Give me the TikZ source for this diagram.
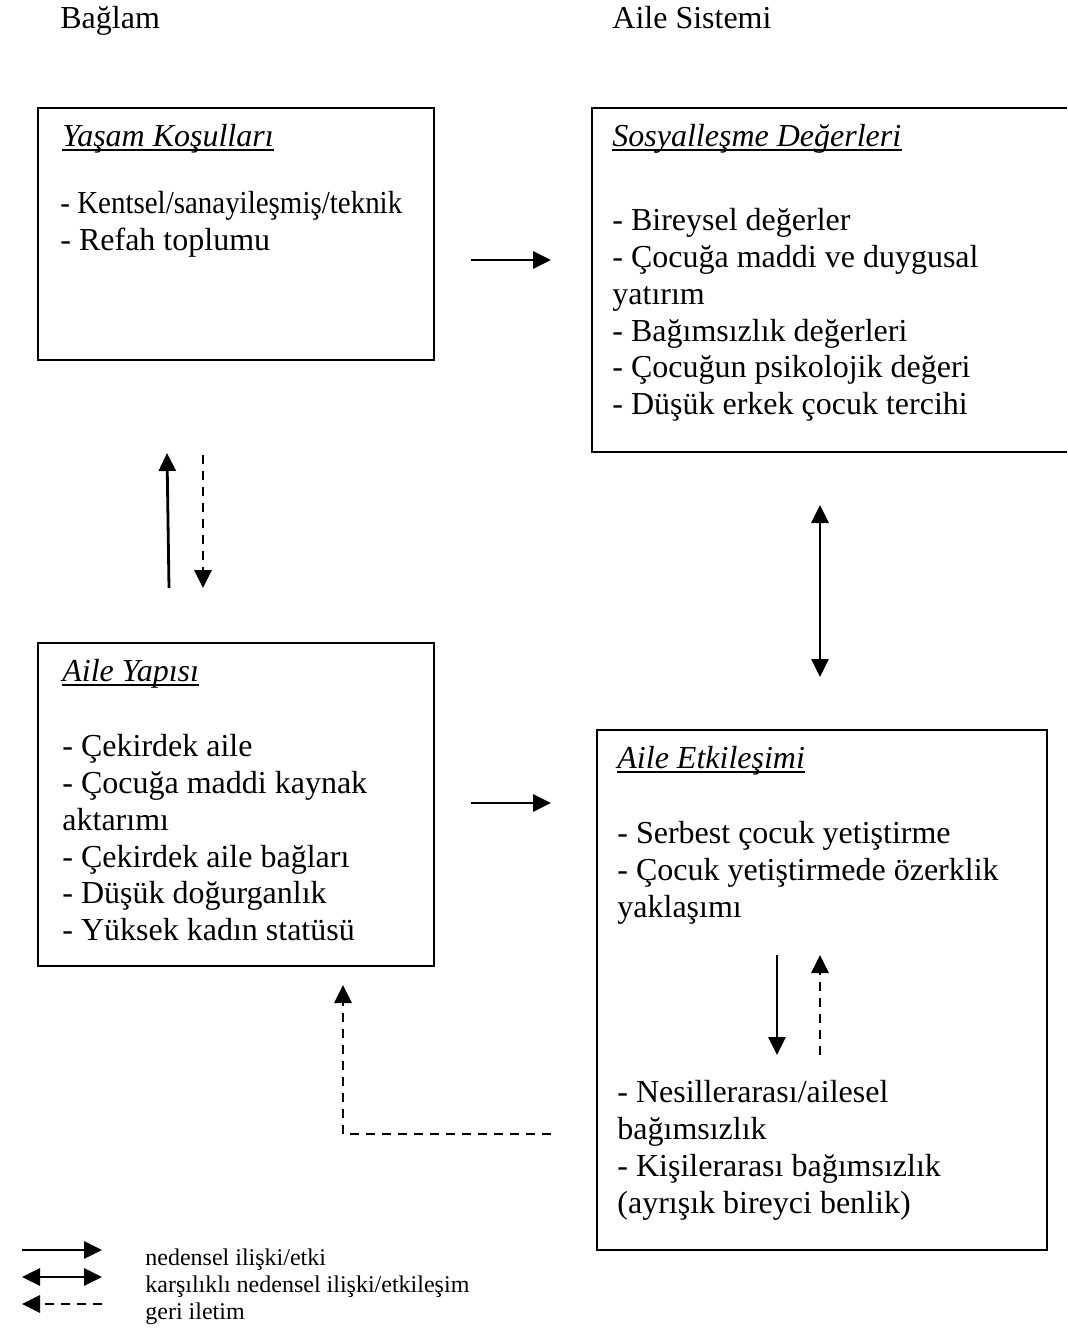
\documentclass[tikz,border=0pt]{standalone}
\usepackage{fontspec}
\setmainfont{Liberation Serif}
\usetikzlibrary{arrows.meta}

\tikzset{
  kutu/.style={draw=black, line width=1pt},
  metin/.style={anchor=north west, yshift=14pt, inner sep=0pt, align=left,
    execute at begin node={\rule{0pt}{14pt}}, font=\fontsize{16}{18.4}\selectfont},
  baslik/.style={metin, font=\fontsize{16}{18.4}\selectfont\itshape},
  cizgi/.style={line width=0.8pt},
  aciklama/.style={anchor=base west, inner sep=0pt, font=\fontsize{12}{13.4}\selectfont},
  ok/.style={line width=1.4pt, -{Triangle[length=9pt,width=8.5pt]}},
  ciftok/.style={line width=1.4pt, {Triangle[length=9pt,width=8.5pt]}-{Triangle[length=9pt,width=8.5pt]}},
  geri/.style={line width=1.4pt, dash pattern=on 4.5pt off 3.5pt, -{Triangle[length=9pt,width=8.5pt]}}
}

\begin{document}
\begin{tikzpicture}[x=0.5pt,y=-0.5pt]
\useasboundingbox (0,0) rectangle (1067,1329);

% basliklar
\node[metin] (baglam) at (60,28) {Bağlam};
\node[metin] (sistem) at (612,28) {Aile Sistemi};

% kutular
\draw[kutu] (38,108) rectangle (434,360);
\draw[kutu] (1067,108) -- (592,108) -- (592,452) -- (1067,452);
\draw[kutu] (38,643) rectangle (434,966);
\draw[kutu] (597,730) rectangle (1047,1250);

\node[baslik] (yasamB) at (62,146) {Yaşam Koşulları};
\draw[cizgi] ([yshift=-1.8pt]yasamB.base west) -- ([yshift=-1.8pt]yasamB.base east);
\node[metin] (yasam) at (60,219) {\scalebox{0.905}[1]{- Kentsel/sanayileşmiş/teknik}\\- Refah toplumu};

\node[baslik] (degerB) at (612,146) {Sosyalleşme Değerleri};
\draw[cizgi] ([yshift=-1.8pt]degerB.base west) -- ([yshift=-1.8pt]degerB.base east);
\node[metin] (deger) at (612,236) {- Bireysel değerler\\- Çocuğa maddi ve duygusal\\yatırım\\- Bağımsızlık değerleri\\- Çocuğun psikolojik değeri\\- Düşük erkek çocuk tercihi};

\node[baslik] (yapiB) at (62,681) {Aile Yapısı};
\draw[cizgi] ([yshift=-1.8pt]yapiB.base west) -- ([yshift=-1.8pt]yapiB.base east);
\node[metin] (yapi) at (62,762) {- Çekirdek aile\\- Çocuğa maddi kaynak\\aktarımı\\- Çekirdek aile bağları\\- Düşük doğurganlık\\- Yüksek kadın statüsü};

\node[baslik] (etkB) at (617,768) {Aile Etkileşimi};
\draw[cizgi] ([yshift=-1.8pt]etkB.base west) -- ([yshift=-1.8pt]etkB.base east);
\node[metin] (etk) at (617,849) {- Serbest çocuk yetiştirme\\- Çocuk yetiştirmede özerklik\\yaklaşımı};
\node[metin] (sonuc) at (617,1108) {- Nesillerarası/ailesel\\bağımsızlık\\- Kişilerarası bağımsızlık\\(ayrışık bireyci benlik)};

% oklar
\coordinate (y1) at (471,260); \coordinate (y2) at (551,260);
\draw[ok] (y1) -- (y2);
\coordinate (s1) at (169,588); \coordinate (s2) at (167,453);
\draw[ok] (s1) -- (s2);
\coordinate (d1) at (203,455); \coordinate (d2) at (203,588);
\draw[geri] (d1) -- (d2);
\coordinate (c1) at (820,505); \coordinate (c2) at (820,677);
\draw[ciftok] (c1) -- (c2);
\coordinate (a1) at (471,803); \coordinate (a2) at (551,803);
\draw[ok] (a1) -- (a2);
\coordinate (e1) at (777,955); \coordinate (e2) at (777,1055);
\draw[ok] (e1) -- (e2);
\coordinate (f1) at (820,1055); \coordinate (f2) at (820,955);
\draw[geri] (f1) -- (f2);
\coordinate (g1) at (551,1134); \coordinate (g2) at (343,1134); \coordinate (g3) at (343,985);
\draw[geri] (g1) -- (g2) -- (g3);

% aciklama
\coordinate (l1) at (22,1250); \coordinate (l2) at (102,1250);
\draw[ok] (l1) -- (l2);
\coordinate (l3) at (22,1277); \coordinate (l4) at (102,1277);
\draw[ciftok] (l3) -- (l4);
\coordinate (l5) at (102,1304); \coordinate (l6) at (22,1304);
\draw[geri] (l5) -- (l6);
\node[aciklama] (n1) at (145,1265) {nedensel ilişki/etki};
\node[aciklama] (n2) at (145,1292) {karşılıklı nedensel ilişki/etkileşim};
\node[aciklama] (n3) at (145,1319) {geri iletim};
\end{tikzpicture}
\end{document}
